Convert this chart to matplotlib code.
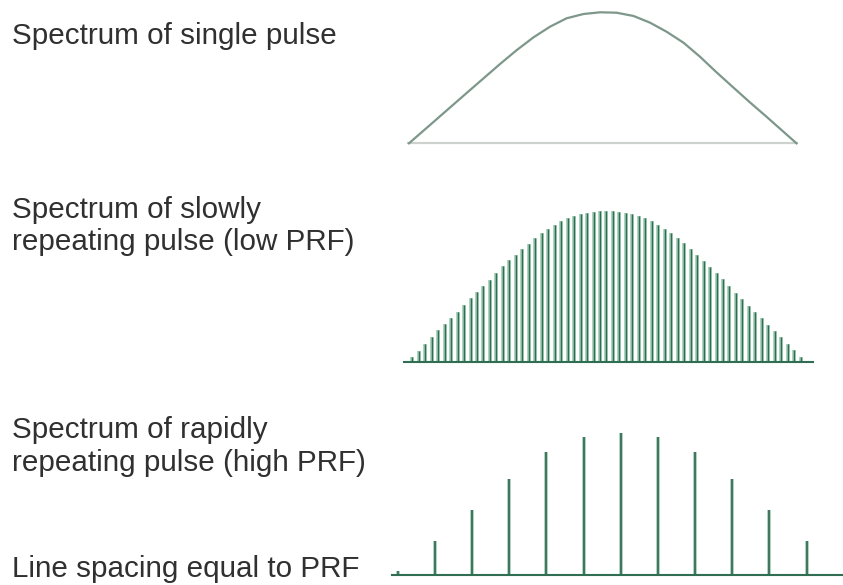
import matplotlib
matplotlib.use("Agg")
import matplotlib.pyplot as plt

W, H = 843, 585

# ------------------------------------------------------------------
# Data (arbitrary amplitude units)
# ------------------------------------------------------------------
# single pulse: continuous spectrum (frequency offset, amplitude)
single_freq = [-193.5, -169, -136, -102.5, -86, -69, -52.5, -36, -19, -2.5,
               14, 31, 47.5, 64, 81, 97.5, 114, 131, 147.5, 164, 194]
single_amp = [0, 0.163, 0.383, 0.605, 0.71, 0.809, 0.890, 0.954, 0.987, 1.0,
              0.997, 0.972, 0.921, 0.852, 0.768, 0.661, 0.542, 0.425, 0.312, 0.203, 0]

# low PRF: 61 closely spaced lines
low_prf_amp = [4.3, 11, 18, 24.5, 31.5, 37.5, 44, 50, 57, 64,
               70, 76, 82, 89, 95.5, 101.5, 107, 112.5, 118, 124,
               129, 133, 137, 140.5, 143.5, 145.5, 147.5, 149, 150, 150.5,
               151,
               150.5, 150, 149, 147.5, 145.5, 143.5, 140.5, 137, 133, 129,
               124, 118.5, 112.5, 107, 101, 95, 89, 82.5, 76, 68.5,
               62.5, 56, 50, 43.5, 37, 30.5, 24.5, 18, 11.5, 4.3]

# high PRF: 12 widely spaced lines
high_prf_amp = [4, 34.3, 65, 95.7, 122.7, 138.3, 142.3, 138.3, 122.7, 95.7, 65, 34.3]

labels = [
    ("Spectrum of single pulse", 44),
    ("Spectrum of slowly", 218),
    ("repeating pulse (low PRF)", 250),
    ("Spectrum of rapidly", 438),
    ("repeating pulse (high PRF)", 471),
    ("Line spacing equal to PRF", 577),
]

GREEN = "#2f6e50"
HALO = "#9ccab2"
BASE_GREEN = "#2f6e52"
TEXT = "#303030"


def px_axes(fig, left, right, bottom, top):
    """axes placed by pixel edges (y measured from the top)"""
    ax = fig.add_axes([left / W, 1 - bottom / H, (right - left) / W, (bottom - top) / H])
    ax.set_axis_off()
    return ax


def main():
    plt.rcParams["font.family"] = ["Liberation Sans", "DejaVu Sans"]
    fig = plt.figure(figsize=(W / 100, H / 100), dpi=100)
    fig.patch.set_facecolor("white")

    # panel 1 - continuous spectrum
    ax1 = px_axes(fig, 408, 797, 143.3, 12.3)
    ax1.set_xlim(-194.5, 194.5)
    ax1.set_ylim(0, 1)
    ax1.axhline(0, color="#cdd2cf", lw=1.6, clip_on=False)
    ax1.plot(single_freq, single_amp, color="#7d978a", lw=1.6,
             solid_joinstyle="round", clip_on=False)

    # panel 2 - low PRF line spectrum (dark core + light halo like the source)
    k2 = list(range(len(low_prf_amp)))
    ax2 = px_axes(fig, 404, 813, 361.5, 210.5)
    ax2.set_xlim(-1.28, 61.9)
    ax2.set_ylim(0, 151)
    ax2.vlines(k2, 0, low_prf_amp, color=HALO, lw=2.6)
    ax2.vlines(k2, 0, low_prf_amp, color=GREEN, lw=1.0)
    ax2.axhline(0, color=BASE_GREEN, lw=1.5, clip_on=False)

    # panel 3 - high PRF line spectrum
    k3 = list(range(len(high_prf_amp)))
    ax3 = px_axes(fig, 392, 843, 575, 432.7)
    ax3.set_xlim(-0.156, 11.98)
    ax3.set_ylim(0, 142.3)
    ax3.vlines(k3, 0, high_prf_amp, color=HALO, lw=2.6)
    ax3.vlines(k3, 0, high_prf_amp, color="#3a6e58", lw=1.3)
    ax3.axhline(0, color=BASE_GREEN, lw=1.5, clip_on=False)

    for txt, y in labels:
        fig.text(12 / W, 1 - y / H, txt, fontsize=21.3, color=TEXT,
                 ha="left", va="baseline")

    fig.savefig("out.png", dpi=100, facecolor="white")
    plt.close(fig)


if __name__ == "__main__":
    main()
